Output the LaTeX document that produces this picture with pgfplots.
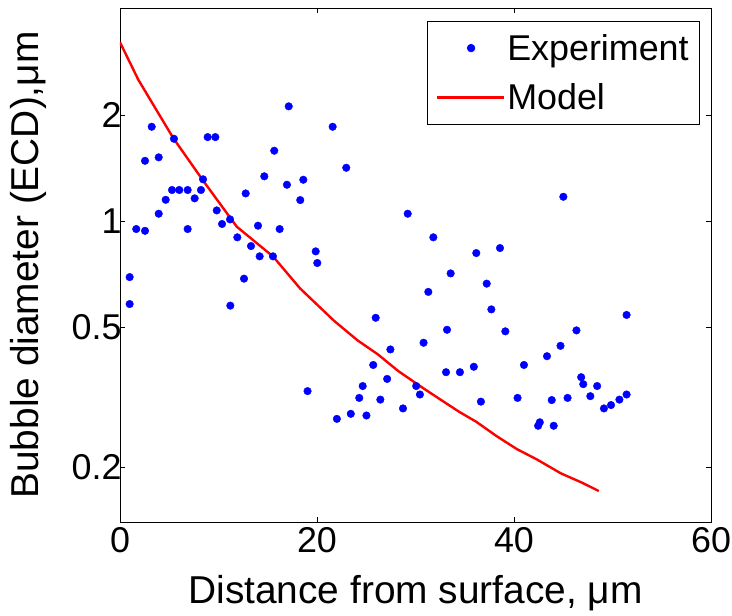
\documentclass[border=0pt]{standalone}
\usepackage{fontspec}
\setmainfont{Liberation Sans}
\usepackage{pgfplots}
\pgfplotsset{compat=1.18}
\pgfplotsset{
  dotleg/.style={legend image code/.code={\draw[mark repeat=2,mark phase=2,##1] plot coordinates {(0bp,0bp)(34bp,0bp)(67bp,0bp)};}},
  lineleg/.style={legend image code/.code={\draw[##1] (0bp,0bp) -- (67bp,0bp);}},
}
\begin{document}
\begin{tikzpicture}
\begin{axis}[
  name=ax,
  scale only axis,
  width=591bp, height=514bp,
  xmin=0, xmax=60, ymode=log, ymin=0.1396, ymax=4.03,
  xtick={0,20,40,60},
  ytick={0.2,0.5,1,2}, yticklabels={0.2,0.5,1,2},
  yminorticks=false, xminorticks=false,
  tick align=inside, tick pos=both,
  major tick length=5bp,
  axis line style={line width=0.9bp},
  every tick/.style={black, line width=0.6bp},
  /pgf/number format/assume math mode=true,
  ticklabel style={font=\fontsize{36}{43}\selectfont},
  yticklabel style={xshift=5bp},
  xticklabel style={yshift=-2bp},
  xlabel={Distance from surface, μm},
  ylabel={Bubble diameter (ECD),μm},
  label style={font=\fontsize{39}{47}\selectfont},
  xlabel style={at={(axis description cs:0.5,-0.1576)}, anchor=base},
  ylabel style={at={(axis description cs:-0.1557,0.5)}, anchor=center},
  legend style={at={(axis description cs:0.9814,0.9747)}, anchor=north east,
    font=\fontsize{36}{43}\selectfont, draw=black, line width=0.7bp,
    inner xsep=9bp, inner ysep=11bp, row sep=18bp},
  legend cell align=left,
]
\addplot[only marks, mark=*, mark size=3.8bp, color=blue, fill=blue, dotleg]
coordinates {
(3.22,1.853) (5.48,1.713) (2.54,1.483) (3.93,1.517) (8.90,1.732) (9.68,1.732)
(17.13,2.118) (15.66,1.584) (14.65,1.34) (18.61,1.31) (16.95,1.268) (18.30,1.147)
(12.76,1.198) (8.43,1.314) (5.28,1.225) (6.02,1.225) (6.87,1.225) (8.22,1.225)
(4.64,1.149) (7.58,1.160) (3.93,1.049) (1.65,0.949) (2.54,0.938) (6.87,0.949)
(9.82,1.072) (10.36,0.981) (11.17,1.011) (11.91,0.899) (14.01,0.970) (16.21,0.949)
(13.30,0.849) (14.18,0.794) (15.53,0.794) (19.87,0.820) (20.03,0.760) (0.98,0.693)
(12.59,0.686) (0.98,0.581) (11.20,0.575)
(21.59,1.853) (22.97,1.417) (29.21,1.049) (31.81,0.899) (36.17,0.811) (38.58,0.838)
(33.57,0.710) (31.30,0.629) (37.23,0.664) (37.70,0.561) (25.96,0.531) (33.20,0.491)
(39.12,0.486) (45.01,1.172)
(19.04,0.3287) (22.02,0.2741) (23.43,0.2833) (25.02,0.2802) (24.29,0.3144) (24.64,0.3398)
(26.43,0.3109) (25.71,0.390) (27.12,0.356) (27.45,0.4317) (28.73,0.2935) (30.07,0.3398)
(30.45,0.3215) (30.82,0.451) (33.10,0.372) (34.51,0.372) (35.92,0.3855) (36.64,0.3068)
(41.01,0.390) (40.36,0.3144) (42.45,0.262) (42.62,0.268) (44.03,0.262) (43.83,0.310)
(43.35,0.413) (44.72,0.442) (46.34,0.489) (45.44,0.3144) (46.82,0.360) (47.03,0.344)
(47.75,0.318) (48.44,0.3398) (49.13,0.2935) (49.85,0.300) (50.70,0.3109) (51.43,0.3215)
(51.43,0.541)
};
\addlegendentry{Experiment}
\addplot[color=red, line width=2.4bp, lineleg]
coordinates {
(0,3.22) (1.86,2.52) (5.41,1.72) (8.46,1.30) (11.85,0.964) (15.56,0.792)
(18.27,0.644) (21.72,0.521) (24.12,0.458) (26.18,0.418) (28.24,0.375) (30.31,0.342)
(32.38,0.313) (34.44,0.287) (36.16,0.269) (38.22,0.245) (40.28,0.225) (42.35,0.210)
(44.75,0.192) (46.82,0.181) (48.61,0.171)
};
\addlegendentry{Model}
\end{axis}
\pgfresetboundingbox
\path ([xshift=-120bp,yshift=-94bp]ax.south west) rectangle ([xshift=21bp,yshift=8bp]ax.north east);
\end{tikzpicture}
\end{document}
